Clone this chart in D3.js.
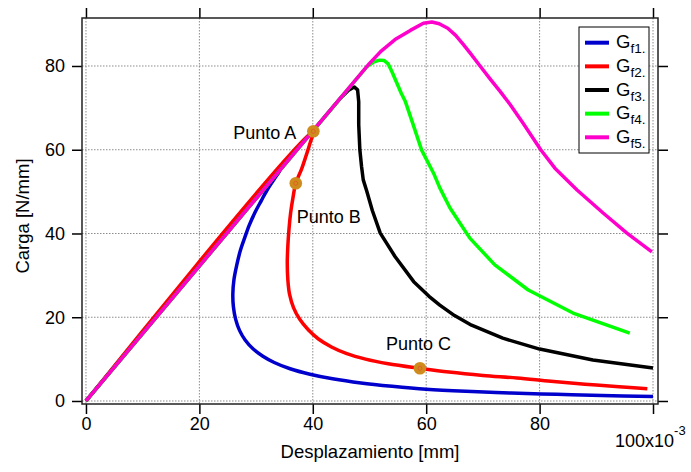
<!DOCTYPE html>
<html>
<head>
<meta charset="utf-8">
<script src="https://cdn.jsdelivr.net/npm/d3@7"></script>
<style>
body { margin: 0; background: #fff; }
svg { display: block; font-family: "Liberation Sans", Arial, sans-serif; }
</style>
</head>
<body>
<svg class="chart"></svg>
<script>
// Desplazamiento in 10^-3 mm, Carga in N/mm
var gf1 = [[0,0],[34.2,55.1],[33.2,53],[32,50.5],[30.9,47.8],[29.8,45],[28.8,42],[28,39],[27.2,35.8],
    [26.6,32.5],[26.1,29],[25.9,25.5],[26,22.5],[26.4,19.5],[27.1,16.8],[28.1,14.5],[29.5,12.4],
    [31.2,10.7],[33.2,9.2],[36,7.7],[39.5,6.4],[43.5,5.3],[48.5,4.3],[54,3.5],[60,2.8],[67,2.3],
    [75,1.9],[83,1.6],[91,1.3],[100,1.1]];
var gf2 = [[0,0],[40.1,64.5],[39.5,61.5],[38.8,58.5],[38,55.3],[37,52],[36.5,48.5],[36.1,45],[35.8,41],
    [35.6,37],[35.5,33],[35.6,29],[35.9,25.5],[36.6,22.3],[37.7,19.5],[39.2,17],[41,14.8],[43.3,12.9],
    [46,11.3],[49.3,10],[53.3,8.9],[58.9,7.8],[64,6.9],[70,6.1],[76,5.5],[82,4.7],[88,4],[94,3.4],[99,2.9]];
var gf3 = [[0,0],[43.5,70.1],[45,72.5],[46.3,74.2],[47.3,75],[47.9,74.3],[48.1,71.5],[48.1,66],[48.3,60],
    [48.6,56],[48.9,52.8],[49.5,50.2],[50.5,45.5],[51.9,40.1],[54.5,34.5],[57.8,28.5],[60.5,25],
    [62.4,22.9],[65,20.4],[68,18.1],[73.5,15],[80,12.4],[89.4,9.8],[100,7.9]];
var gf4 = [[0,0],[49.5,79.8],[50.8,81],[51.8,81.4],[52.6,81.3],[53.3,80.5],[54,78.5],[54.8,76],[55.6,73.5],
    [56.3,71.6],[57.7,66],[59.2,59.9],[61.3,54.4],[62.4,50.9],[64.2,46.1],[67.7,38.9],[72.1,32.5],
    [78,26.5],[85.9,21],[95.9,16.2]];
var gf5 = [[0,0],[50,80.6],[52,83.5],[54.5,86.3],[57.2,88.5],[59.5,90.2],[61,90.5],[62.3,90.1],[63.8,89],
    [65.2,87.3],[66.5,85.2],[67.8,83],[69.5,80],[71.4,76.7],[73,74],[74.8,70.8],[77,66.5],[80.2,60],
    [82.7,55.6],[86.6,50.4],[91.2,44.9],[95.4,40.1],[99.8,35.6]];

var seriesSub = ["f1.", "f2.", "f3.", "f4.", "f5."];
var seriesColor = ["#0000cc", "#ff0000", "#000000", "#00ff00", "#ff00cc"];

var xTicks = [0, 20, 40, 60, 80, 100];
var yTicks = [0, 20, 40, 60, 80];

var puntoName = ["Punto A", "Punto B", "Punto C"];
var puntoX = [40.1, 37.0, 58.9];
var puntoY = [64.4, 52.0, 7.8];

// Total dimensions
var w = 691,
    h = 472;

var svg = d3.select(".chart")
    .attr("width", w)
    .attr("height", h);

// frame of the plot area
var margin = { top: 18, right: 33, bottom: 68, left: 82 },
    width = w - margin.left - margin.right,
    height = h - margin.top - margin.bottom,
    g = svg.append("g").attr("transform", "translate(" + margin.left + "," + margin.top + ")");

var x = d3.scaleLinear()
    .domain([-0.7, 100.88])
    .range([0, width]);

var y = d3.scaleLinear()
    .domain([-0.72, 91.46])
    .range([height, 0]);

// dotted grid
g.selectAll(".gx").data(xTicks).enter().append("line")
    .attr("x1", function(d) { return x(d); })
    .attr("x2", function(d) { return x(d); })
    .attr("y1", 0).attr("y2", height)
    .attr("stroke", "#8c8c8c").attr("stroke-width", 1)
    .attr("stroke-dasharray", "1.5,1.5");

g.selectAll(".gy").data(yTicks).enter().append("line")
    .attr("y1", function(d) { return y(d); })
    .attr("y2", function(d) { return y(d); })
    .attr("x1", 0).attr("x2", width)
    .attr("stroke", "#8c8c8c").attr("stroke-width", 1)
    .attr("stroke-dasharray", "1.5,1.5");

// axes: ticks outward on the four sides
var fmtX = function(d) { return d == 100 ? "" : d; };

var axB = g.append("g").attr("transform", "translate(0," + height + ")")
    .call(d3.axisBottom(x).tickValues(xTicks).tickSize(10).tickPadding(3).tickFormat(fmtX));
var axT = g.append("g")
    .call(d3.axisTop(x).tickValues(xTicks).tickSize(10).tickFormat(""));
var axL = g.append("g")
    .call(d3.axisLeft(y).tickValues(yTicks).tickSize(10).tickPadding(7));
var axR = g.append("g").attr("transform", "translate(" + width + ",0)")
    .call(d3.axisRight(y).tickValues(yTicks).tickSize(10).tickFormat(""));

[axB, axT, axL, axR].forEach(function(a) {
    a.select(".domain").remove();
    a.selectAll("line").attr("stroke-width", 1.5);
    a.selectAll("text").attr("font-size", 18).attr("font-family", "Liberation Sans, Arial, sans-serif").attr("fill", "#000");
});

// last x label with its exponent
var lab100 = g.append("text")
    .attr("x", x(100) - 38)
    .attr("y", height + 43)
    .attr("font-size", 18);
lab100.append("tspan").text("100x10");
lab100.append("tspan").attr("font-size", 13).attr("dy", -12).text("-3");

g.append("rect")
    .attr("width", width).attr("height", height)
    .attr("fill", "none").attr("stroke", "#222").attr("stroke-width", 1.5);

// curves
var line = d3.line()
    .x(function(d) { return x(d[0]); })
    .y(function(d) { return y(d[1]); });

var series = [gf1, gf2, gf3, gf4, gf5];
series.forEach(function(s, i) {
    g.append("path")
        .datum(s)
        .attr("fill", "none")
        .attr("stroke", seriesColor[i])
        .attr("stroke-width", 3.5)
        .attr("stroke-linejoin", "round")
        .attr("stroke-linecap", "butt")
        .attr("d", line.curve(i < 2 ? d3.curveCatmullRom.alpha(0.5) : d3.curveLinear));
});

// marked points
var lblDx = [-17, 1, -34],
    lblDy = [7.5, 39.5, -18],
    lblAnchor = ["end", "start", "start"];

puntoName.forEach(function(n, i) {
    var cx = x(puntoX[i]), cy = y(puntoY[i]);
    g.append("circle").attr("cx", cx).attr("cy", cy).attr("r", 6.3).attr("fill", "#cf8c1d");
    g.append("circle").attr("cx", cx).attr("cy", cy).attr("r", 2).attr("fill", "none")
        .attr("stroke", "#e2542a").attr("stroke-width", 0.8);
    g.append("text")
        .attr("x", cx + lblDx[i]).attr("y", cy + lblDy[i])
        .attr("text-anchor", lblAnchor[i])
        .attr("font-size", 18)
        .text(n);
});

// legend
var lg = svg.append("g").attr("transform", "translate(579,27)");
lg.append("rect").attr("width", 70).attr("height", 126)
    .attr("fill", "#fff").attr("stroke", "#000").attr("stroke-width", 1);
seriesSub.forEach(function(s, i) {
    var ly = 15.7 + i * 23.65;
    lg.append("line").attr("x1", 6).attr("x2", 30).attr("y1", ly).attr("y2", ly)
        .attr("stroke", seriesColor[i]).attr("stroke-width", 4);
    var t = lg.append("text").attr("x", 37).attr("y", ly + 5.6).attr("font-size", 18.5);
    t.append("tspan").text("G");
    t.append("tspan").attr("font-size", 13.5).attr("dy", 5).text(s);
});

// axis titles
svg.append("text")
    .attr("transform", "translate(29,216) rotate(-90)")
    .attr("text-anchor", "middle")
    .attr("font-size", 18.5)
    .text("Carga [N/mm]");

svg.append("text")
    .attr("x", margin.left + width / 2)
    .attr("y", 458)
    .attr("text-anchor", "middle")
    .attr("font-size", 18.5)
    .text("Desplazamiento [mm]");
</script>
</body>
</html>
